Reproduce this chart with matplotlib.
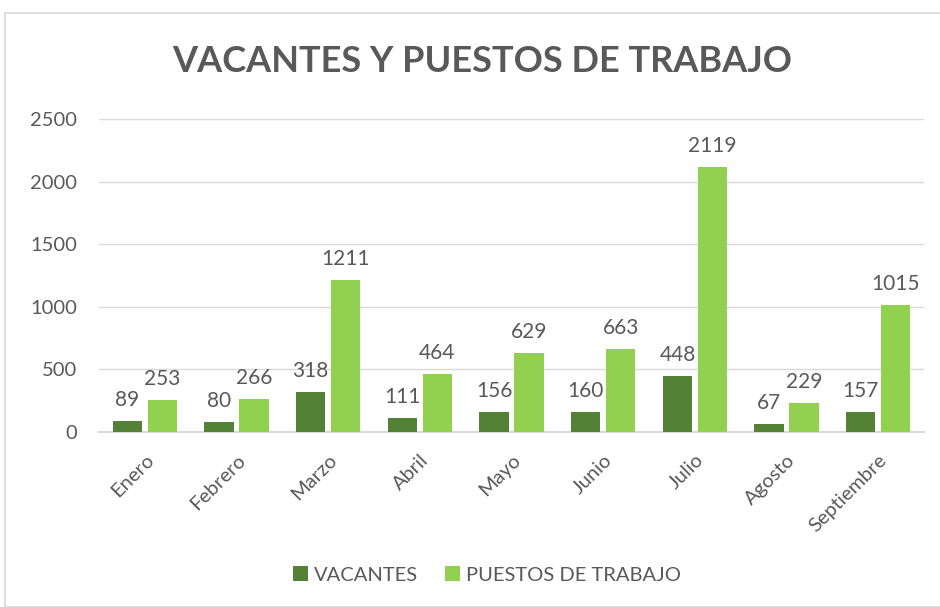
import matplotlib
matplotlib.use("Agg")
import matplotlib.pyplot as plt
import numpy as np
from matplotlib.patches import Rectangle

months = ["Enero", "Febrero", "Marzo", "Abril", "Mayo", "Junio", "Julio", "Agosto", "Septiembre"]
vacantes = [89, 80, 318, 111, 156, 160, 448, 67, 157]
puestos = [253, 266, 1211, 464, 629, 663, 2119, 229, 1015]
yticks = [0, 500, 1000, 1500, 2000, 2500]

dark = "#538135"
light = "#92D050"
txt = "#595959"
plt.rcParams['font.family'] = ['Lato', 'DejaVu Sans']

fig = plt.figure(figsize=(9.4, 6.07), dpi=100)
fig.patches.append(Rectangle((5/940, 0), 1, 1 - 13/607, transform=fig.transFigure,
                             fill=False, edgecolor="#D9D9D9", linewidth=1.2))
ax = fig.add_axes([99/940, 1 - 432/607, 825/940, 313/607])

x = np.arange(len(months))
w = 0.32
off = 0.19
b1 = ax.bar(x - off, vacantes, w, color=dark, label="VACANTES", zorder=3)
b2 = ax.bar(x + off, puestos, w, color=light, label="PUESTOS DE TRABAJO", zorder=3)
for bars, vals in ((b1, vacantes), (b2, puestos)):
    for r, v in zip(bars, vals):
        ax.annotate(str(v), (r.get_x() + r.get_width() / 2, v), xytext=(0, 8),
                    textcoords="offset points", ha="center", va="bottom",
                    fontsize=15, color=txt)

ax.set_xlim(-0.5, len(months) - 0.5)
ax.set_ylim(0, 2500)
ax.set_yticks(yticks)
ax.set_yticklabels([str(t) for t in yticks], fontsize=14.5, color=txt)
ax.set_xticks(x)
ax.set_xticklabels(months, rotation=45, ha="right", rotation_mode="anchor", fontsize=14.5, color=txt)
ax.tick_params(axis="both", length=0)
ax.tick_params(axis="x", pad=14)
ax.tick_params(axis="y", pad=16)
ax.grid(axis="y", color="#D9D9D9", linewidth=1, zorder=0)
for s in ["top", "right", "left"]:
    ax.spines[s].set_visible(False)
ax.spines["bottom"].set_color("#D9D9D9")
ax.spines["bottom"].set_linewidth(1.5)

fig.text(482/940, 1 - 62/607, "VACANTES Y PUESTOS DE TRABAJO", ha="center", va="center",
         fontsize=26, fontweight="bold", color=txt)

fig.legend(handles=[b1, b2], loc="center", bbox_to_anchor=(487/940, 1 - 575/607), ncol=2,
           frameon=False, fontsize=14.5, labelcolor=txt, handlelength=0.75, handleheight=0.75,
           handletextpad=0.3, columnspacing=1.3)

fig.savefig("out.png", dpi=100)
